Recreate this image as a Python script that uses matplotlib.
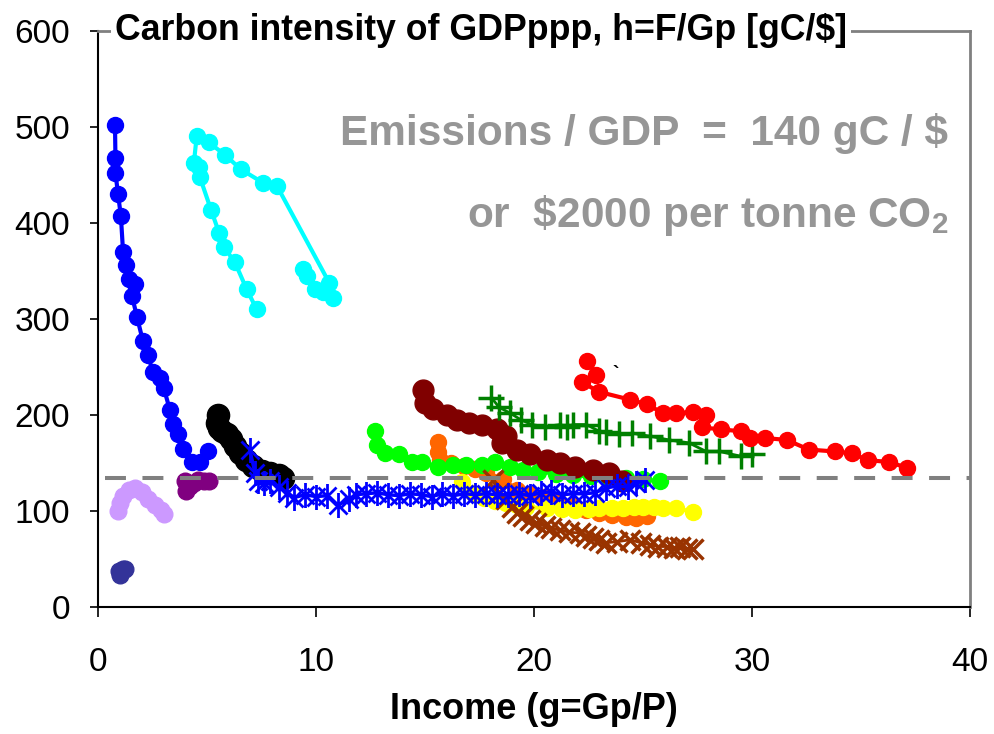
import matplotlib
matplotlib.use("Agg")
import matplotlib.pyplot as plt
from matplotlib.path import Path

plt.rcParams['font.family'] = ['Liberation Sans', 'DejaVu Sans']

# ---------------- data ----------------
blue_x = [0.78, 0.8, 0.8, 0.92, 1.05, 1.15, 1.28, 1.42, 1.7, 1.56, 1.79, 2.06, 2.29, 2.52, 2.84, 3.02, 3.3, 3.43, 3.66, 3.9, 4.3, 4.67, 5.04]
blue_y = [502, 468, 452, 430, 407, 370, 356, 342, 336, 324, 302, 277, 262, 245, 239, 228, 205, 191, 180, 165, 151, 151, 163]

cyan_x = [9.4, 9.57, 9.94, 10.3, 10.77, 10.6, 8.2, 7.56, 6.55, 5.82, 5.08, 4.53, 4.4, 4.63, 4.67, 5.18, 5.55, 5.78, 6.28, 6.82, 7.28]
cyan_y = [352, 345, 331, 328, 322, 338, 439, 442, 456, 471, 484, 491, 463, 458, 448, 414, 390, 375, 359, 331, 310]

black_x = [5.5, 5.45, 5.55, 5.7, 5.9, 6.1, 6.3, 6.5, 6.8, 7.1, 7.5, 7.9, 8.3, 8.5]
black_y = [200, 192, 186, 183, 180, 175, 168, 160, 153, 147, 142, 140, 137, 134]

lav_x = [0.9, 1.0, 1.15, 1.4, 1.7, 2.0, 2.3, 2.6, 2.9, 3.05]
lav_y = [100, 108, 116, 122, 124, 120, 112, 106, 101, 97]

purple_x = [4.0, 4.05, 4.2, 4.4, 4.6, 4.85, 5.1]
purple_y = [131, 121, 126, 129, 132, 131, 131]

navy_x = [0.95, 1.0, 1.05, 1.15, 1.25]
navy_y = [38, 33, 36, 40, 40]

ast_x = [6.96, 7.2, 7.33, 7.6, 7.88, 8.3, 8.66, 9.0, 9.5, 10.0, 10.5, 11.0, 11.5, 11.85, 12.3, 12.8, 13.3, 13.8, 14.3, 14.8,
         15.3, 15.8, 16.3, 16.8, 17.3, 17.8, 18.3, 18.8, 19.3, 19.8, 20.3, 20.8, 21.3, 21.8, 22.3, 22.8, 23.3, 23.8, 24.3, 24.7, 25.1]
ast_y = [164, 140, 131, 129, 131, 125, 119, 114, 117, 115, 116, 106, 112, 117, 118, 119, 117, 116, 118, 117,
         115, 118, 116, 118, 117, 118, 117, 117, 118, 116, 119, 120, 117, 118, 118, 119, 124, 126, 125, 129, 132]

lime_x = [12.7, 12.8, 13.15, 13.8, 14.4, 14.85, 15.6, 16.3, 16.9, 17.6, 18.2, 18.9, 19.5, 20.2, 21.0, 21.8, 22.6, 23.4, 24.2, 25.0, 25.8]
lime_y = [183, 169, 160, 159, 151, 151, 146, 148, 148, 148, 151, 146, 143, 141, 139, 137, 136, 135, 134, 133, 131]

orange_x = [15.6, 15.6, 15.7, 16.2, 16.8, 17.3, 17.8, 18.6, 19.2, 19.8, 20.4, 21.1, 21.8, 22.4, 23.0, 23.6, 24.2, 24.7, 25.2]
orange_y = [172, 161, 153, 150, 147, 144, 140, 133, 122, 118, 115, 110, 105, 101, 98, 96, 94, 93, 95]

yellow_x = [16.7, 17.2, 17.7, 18.2, 18.7, 19.2, 19.65, 20.6, 21.3, 21.9, 22.5, 23.0, 23.6, 24.1, 24.6, 25.0, 25.5, 25.9, 26.5, 27.3]
yellow_y = [130, 119, 114, 110, 108, 106, 104, 103, 102, 101, 102, 103, 103, 103, 104, 104, 104, 103, 103, 99]

brown_x = [18.1, 18.4, 18.7, 19.0, 19.2, 19.5, 19.8, 20.1, 20.5, 20.8, 21.2, 21.6, 22.1, 22.4, 22.7, 23.0, 23.3, 23.8,
           24.4, 24.9, 25.3, 25.7, 26.1, 26.4, 26.7, 27.0, 27.3]
brown_y = [132, 119, 112, 104, 98, 95, 91, 88, 84, 82, 80, 78, 77, 74, 72, 70, 67, 68, 70, 67, 65, 63, 63, 61, 62, 60, 60]

dred_x = [14.9, 15.0, 15.35, 16.0, 16.45, 17.0, 17.6, 18.3, 18.7, 18.55, 19.2, 19.8, 20.6, 21.2, 21.9, 22.7, 23.45, 24.05]
dred_y = [226, 213, 206, 200, 195, 192, 190, 185, 178, 171, 164, 159, 153, 150, 146, 143, 140, 131]

plus_x = [18.05, 18.4, 18.9, 19.4, 19.9, 20.5, 21.2, 21.5, 21.8, 22.4, 23.0, 23.3, 23.9, 24.5, 25.3, 26.2, 27.1, 27.9, 28.5, 29.5, 30.0]
plus_y = [218, 208, 202, 195, 190, 188, 190, 187, 190, 190, 183, 182, 180, 181, 178, 174, 171, 162, 162, 157, 159]

red_x = [22.45, 22.85, 22.2, 23.0, 24.4, 25.2, 25.9, 26.5, 27.3, 27.9, 27.7, 28.6, 29.5, 29.9, 30.6, 31.6, 32.6, 33.8, 34.6, 35.3, 36.3, 37.1]
red_y = [256, 242, 234, 224, 216, 211, 202, 202, 203, 200, 187, 185, 183, 176, 176, 174, 164, 162, 160, 153, 151, 145]

ref_x = [0.3, 40]
ref_y = [134.5, 134.5]

title = "Carbon intensity of GDPppp, h=F/Gp [gC/$]"
xlabel = "Income (g=Gp/P)"
note1 = "Emissions / GDP  =  140 gC / $"
note2 = r"or  \$2000 per tonne CO$_\mathregular{2}$"
xticks = [0, 10, 20, 30, 40]
yticks = [0, 100, 200, 300, 400, 500, 600]

# ---------------- figure ----------------
fig = plt.figure(figsize=(9.94, 7.34), dpi=100)
ax = fig.add_axes([98/994, 1-607/734, 872/994, 576/734])
ax.set_xlim(0, 40)
ax.set_ylim(0, 600)

ast = Path([(0, -1), (0, 1), (-0.72, -0.72), (0.72, 0.72), (-0.72, 0.72), (0.72, -0.72)],
           [Path.MOVETO, Path.LINETO, Path.MOVETO, Path.LINETO, Path.MOVETO, Path.LINETO])

def circ(x, y, c, ms=11.5, lw=3, z=2):
    ax.plot(x, y, '-', color=c, lw=lw, marker='o', ms=ms, mec=c, mfc=c, zorder=z, solid_capstyle='round')

circ(orange_x, orange_y, '#FF6600', z=2)
circ(yellow_x, yellow_y, '#FFFF00', z=3)
circ(lime_x, lime_y, '#00FF00', z=4)
ax.plot(brown_x, brown_y, '-', color='#993300', lw=2, marker='x', ms=15, mew=2.5, zorder=5)
circ(dred_x, dred_y, '#800000', ms=15, lw=4, z=6)
ax.plot(plus_x, plus_y, '-', color='#008000', lw=2, marker='+', ms=19, mew=2.5, zorder=7)
circ(red_x, red_y, '#FF0000', z=8)
circ(blue_x, blue_y, '#0000FF', z=9)
circ(cyan_x, cyan_y, '#00FFFF', z=9)
circ(black_x, black_y, '#000000', ms=16, lw=5, z=10)
ax.plot(ast_x, ast_y, '-', color='#0000FF', lw=2.5, marker=ast, ms=18, mew=2, zorder=11)
circ(lav_x, lav_y, '#CC99FF', ms=12, lw=5, z=10)
circ(purple_x, purple_y, '#800080', ms=12, lw=5, z=10)
circ(navy_x, navy_y, '#333399', ms=12, lw=5, z=10)

ln, = ax.plot(ref_x, ref_y, color='#808080', lw=2.9, zorder=20, solid_capstyle='butt')
ln.set_dashes([5.2, 4.1])
ln.set_dash_capstyle('butt')

ax.text(23.6, 238, '`', fontsize=14, fontweight='bold', color='black', zorder=12)

ax.text(39.0, 481, note1, ha='right', va='baseline', fontsize=30.5, fontweight='bold', color='#969696', zorder=15)
ax.text(39.0, 396, note2, ha='right', va='baseline', fontsize=30.5, fontweight='bold', color='#969696', zorder=15)

ax.text(0.0195, 1.0, title, transform=ax.transAxes, ha='left', va='center', fontsize=25.7,
        fontweight='bold', color='black', zorder=30,
        bbox=dict(facecolor='white', edgecolor='none', pad=3))

ax.set_xticks(xticks)
ax.set_yticks(yticks)
ax.set_xticklabels([str(v) for v in xticks], fontsize=24)
ax.set_yticklabels([str(v) for v in yticks], fontsize=24)
ax.tick_params(axis='y', direction='out', length=6, width=1.2, pad=14)
ax.tick_params(axis='x', direction='out', length=7, width=1.2, pad=22)
ax.set_xlabel(xlabel, fontsize=26, fontweight='bold', labelpad=10)

for s in ['left', 'bottom']:
    ax.spines[s].set_color('black')
    ax.spines[s].set_linewidth(1.5)
for s in ['top', 'right']:
    ax.spines[s].set_color('#808080')
    ax.spines[s].set_linewidth(2)

fig.savefig('out.png', dpi=100)
